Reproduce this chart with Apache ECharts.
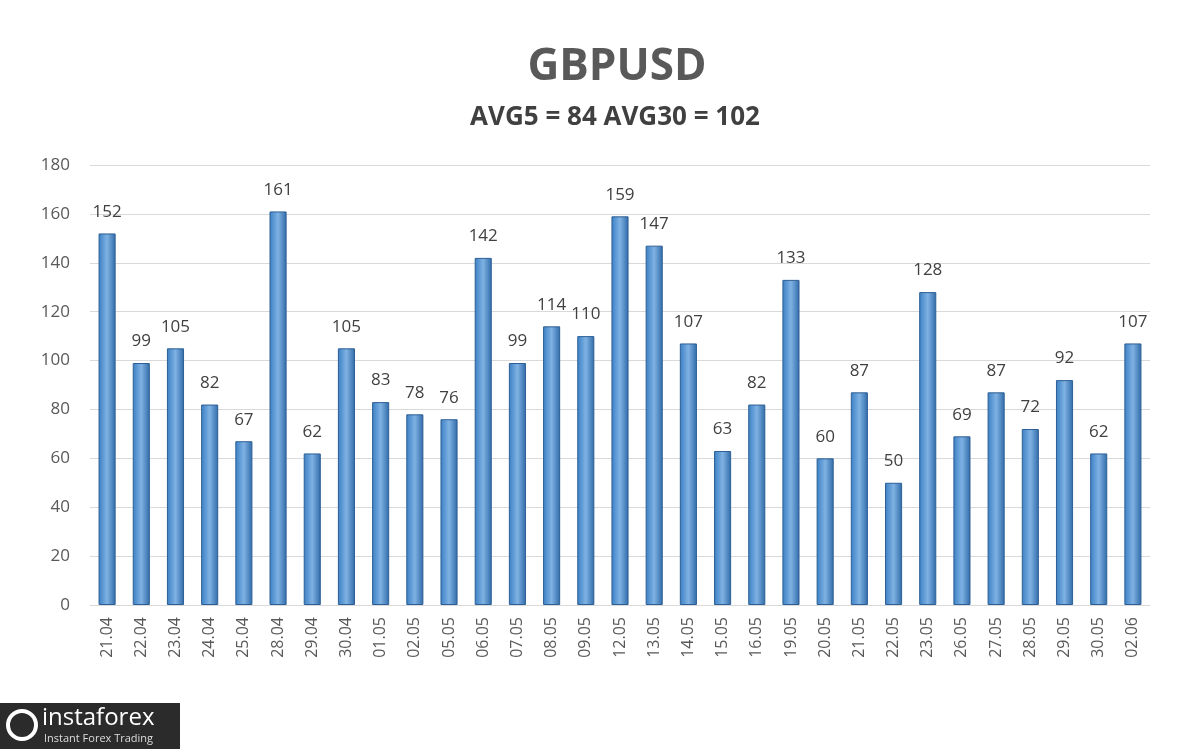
<!DOCTYPE html>
<html><head><meta charset="utf-8">
<script src="https://cdn.jsdelivr.net/npm/echarts@6/dist/echarts.min.js"></script>
<style>html,body{margin:0;padding:0;background:#fff}#c{width:1200px;height:749px}</style>
</head><body><div id="c"></div>
<script>
const categories = ["21.04","22.04","23.04","24.04","25.04","28.04","29.04","30.04","01.05","02.05","05.05","06.05","07.05","08.05","09.05","12.05","13.05","14.05","15.05","16.05","19.05","20.05","21.05","22.05","23.05","26.05","27.05","28.05","29.05","30.05","02.06"];
const values = [152,99,105,82,67,161,62,105,83,78,76,142,99,114,110,159,147,107,63,82,133,60,87,50,128,69,87,72,92,62,107];
const yTicks = [0,20,40,60,80,100,120,140,160,180];
const chart = echarts.init(document.getElementById('c'));
chart.setOption({
  animation:false,
  title:[{text:'GBPUSD',left:612,textAlign:'center',top:40,textStyle:{fontFamily:'Open Sans',fontSize:44,fontWeight:'bold',color:'#595959'}},
         {text:'AVG5 = 84 AVG30 = 102',left:610,textAlign:'center',top:100,textStyle:{fontFamily:'Open Sans',fontSize:26,fontWeight:'bold',color:'#404040'}}],
  grid:{left:90,right:50,top:165,bottom:144},
  xAxis:{type:'category',data:categories,axisTick:{show:false},axisLine:{lineStyle:{color:'#d9d9d9'}},
    axisLabel:{rotate:90,fontSize:16,color:'#595959',fontFamily:'Open Sans',margin:12}},
  yAxis:{type:'value',min:yTicks[0],max:yTicks[yTicks.length-1],interval:20,
    axisLabel:{fontSize:17,color:'#595959',fontFamily:'Open Sans',margin:20},
    splitLine:{lineStyle:{color:'#d9d9d9'}}},
  series:[{type:'bar',data:values,barWidth:'50%',
    itemStyle:{color:new echarts.graphic.LinearGradient(0,0,1,0,[{offset:0,color:'#3a7fc4'},{offset:0.5,color:'#7fb2e3'},{offset:1,color:'#2f6aa8'}]),borderColor:'#2d5f95',borderWidth:1},
    label:{show:true,position:'top',fontSize:17,color:'#404040',fontFamily:'Open Sans',distance:13}}],
  graphic:[{type:'rect',left:0,top:703,shape:{width:180,height:46},style:{fill:'#2b2b2b'}},
    {type:'text',left:42,top:706,style:{text:'instaforex',fill:'#fff',font:'24px Open Sans'}},
    {type:'text',left:44,top:733,style:{text:'Instant Forex Trading',fill:'#ddd',font:'11px Open Sans'}},
    {type:'circle',shape:{cx:22,cy:725,r:14},style:{fill:'none',stroke:'#fff',lineWidth:4}}]
});
</script></body></html>
